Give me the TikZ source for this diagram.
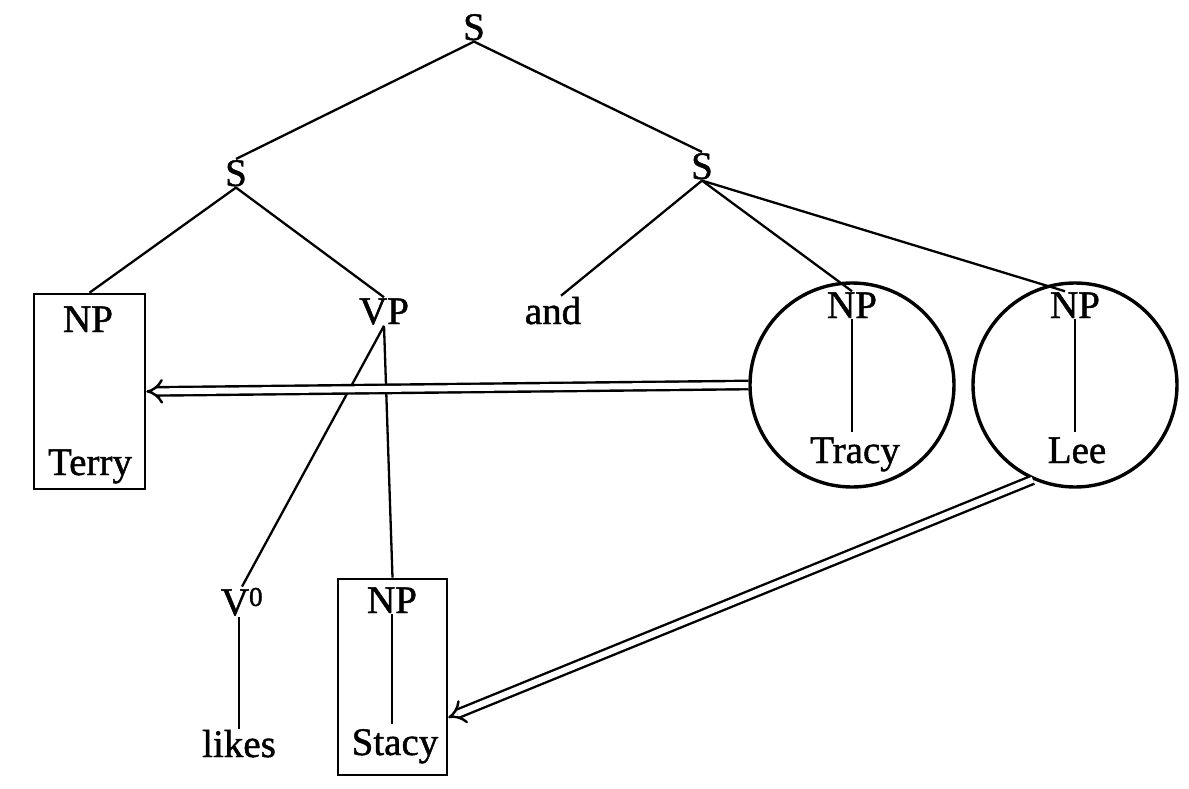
\documentclass[tikz,border=0pt]{standalone}
\usepackage{fontspec}
\setmainfont[FakeBold=1.2]{Liberation Serif}
\usetikzlibrary{arrows.meta}
\begin{document}
\begin{tikzpicture}[x=1pt,y=-1pt,
 lbl/.style={font=\fontsize{39}{44}\selectfont, inner sep=1pt, anchor=base},
 br/.style={line width=2.3pt},
 frame/.style={draw, line width=2.6pt, rectangle, inner sep=0pt},
 ring/.style={draw, line width=3.4pt, circle, inner sep=0pt, minimum size=204pt},
 dbl/.style={double, double distance=6pt, line width=2.4pt, -{Implies}}]
\useasboundingbox (0,0) rectangle (1189,789);
% frames and rings
\node[frame, minimum width=111pt, minimum height=195pt] (terrybox) at (89.5,391.5) {};
\node[frame, minimum width=109pt, minimum height=196pt] (stacybox) at (392.5,677) {};
\node[ring] (tracyc) at (852,385) {};
\node[ring] (leec) at (1075,385) {};
% labels
\node[lbl] (s0) at (474,40) {S};
\node[lbl] (s1) at (236,186) {S};
\node[lbl] (s2) at (702,179) {S};
\node[lbl] (npA) at (88,332) {NP};
\node[lbl] (terry) at (90,475) {Terry};
\node[lbl] (vp) at (384,324) {VP};
\node[lbl] (and) at (553,324) {and};
\node[lbl] (npT) at (852,318) {NP};
\node[lbl] (tracy) at (855,463) {Tracy};
\node[lbl] (npL) at (1075,318) {NP};
\node[lbl] (lee) at (1077,463) {Lee};
\node[lbl] (v0) at (242,615) {V\textsuperscript{0}};
\node[lbl] (likes) at (239,757) {likes};
\node[lbl] (npS) at (392,613) {NP};
\node[lbl] (stacy) at (395,755) {Stacy};
% branches
\draw[br] (s0.south) -- (s1.north);
\draw[br] (s0.south) -- (s2.north);
\draw[br] (s1.south) -- (terrybox.north);
\draw[br] (s1.south) -- (vp.north);
\draw[br] (s2.south) -- ([xshift=8pt]and.north);
\draw[br] (s2.south) -- (npT.north);
\draw[br] (s2.south) -- ([xshift=-10pt]npL.north);
\draw[br] (vp.south) -- (v0.north);
\draw[br] (vp.south) -- (stacybox.north);
\draw[br] (likes.north |- v0.south) -- (likes.north);
\draw[br] (npS.south) -- ([yshift=4pt]npS.south |- stacy.north);
\draw[br] (npT.south) -- ([yshift=4pt]npT.south |- tracy.north);
\draw[br] (npL.south) -- ([yshift=4pt]npL.south |- lee.north);
% movement arrows
\draw[dbl] (tracyc.west) -- (terrybox.east);
\draw[dbl] (leec.246) -- (stacybox.-36);
\end{tikzpicture}
\end{document}
